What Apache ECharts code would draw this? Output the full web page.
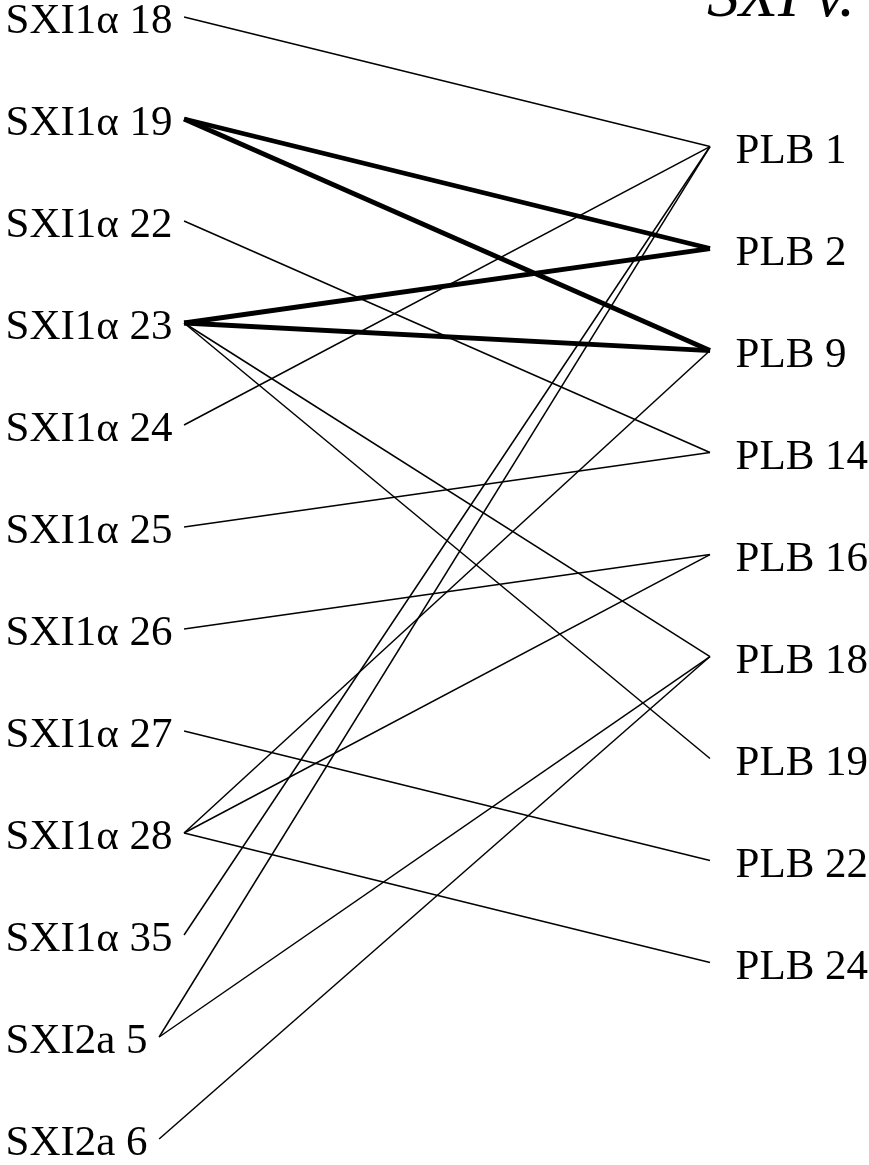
<!DOCTYPE html>
<html>
<head>
<meta charset="utf-8">
<script src="https://cdn.jsdelivr.net/npm/echarts@6/dist/echarts.min.js"></script>
<style>
html,body{margin:0;padding:0;background:#fff;}
#chart{width:869px;height:1165px;}
</style>
</head>
<body>
<div id="chart"></div>
<script>
// ---- data ----
const titleText = 'SXI v.';
const leftNodes = ['SXI1α 18','SXI1α 19','SXI1α 22','SXI1α 23','SXI1α 24','SXI1α 25','SXI1α 26','SXI1α 27','SXI1α 28','SXI1α 35','SXI2a 5','SXI2a 6'];
const rightNodes = ['PLB 1','PLB 2','PLB 9','PLB 14','PLB 16','PLB 18','PLB 19','PLB 22','PLB 24'];
const edgeFrom = ['SXI1α 18','SXI1α 19','SXI1α 19','SXI1α 22','SXI1α 23','SXI1α 23','SXI1α 23','SXI1α 23','SXI1α 24','SXI1α 25','SXI1α 26','SXI1α 27','SXI1α 28','SXI1α 28','SXI1α 28','SXI1α 35','SXI2a 5','SXI2a 5','SXI2a 6'];
const edgeTo   = ['PLB 1','PLB 2','PLB 9','PLB 14','PLB 2','PLB 9','PLB 18','PLB 19','PLB 1','PLB 14','PLB 16','PLB 22','PLB 9','PLB 16','PLB 24','PLB 1','PLB 1','PLB 18','PLB 18'];
const edgeWeight = [1,2,2,1,2,2,1,1,1,1,1,1,1,1,1,1,1,1,1];

// ---- layout ----
const W = 869, H = 1165;
const labelLeft = 5, rightEnd = 710;
const gridTop = 17, gridBottom = H - 1139;
const plotWidth = rightEnd - labelLeft;   // x in data = pixel offset / plotWidth
const rightOffset = 1.27;
const fontFamily = '"Liberation Serif", "Times New Roman", serif';
const labelSize = 43;

const cv = document.createElement('canvas').getContext('2d');
cv.font = labelSize + 'px ' + fontFamily;
function leftEndX(name){
  const w = cv.measureText(name).width;
  return (w + 12) / plotWidth;
}

const lineData = edgeFrom.map((f, k) => {
  const li = leftNodes.indexOf(f);
  const ri = rightNodes.indexOf(edgeTo[k]);
  return {
    coords: [[leftEndX(f), li], [1, ri + rightOffset]],
    lineStyle: { width: edgeWeight[k] === 2 ? 4.8 : 1.5 }
  };
});

const labelStyle = { show: true, position: 'right', formatter: p => p.name, offset: [0, 5],
  fontFamily: fontFamily, fontSize: labelSize, color: '#000', opacity: 1, textBorderWidth: 0 };

const chart = echarts.init(document.getElementById('chart'), null, {renderer:'canvas'});
chart.setOption({
  backgroundColor: '#fff',
  animation: false,
  graphic: [{
    type: 'text', left: 707, top: -33,
    style: { text: titleText, font: 'italic 64px ' + fontFamily, fill: '#000' }
  }],
  grid: { left: labelLeft, right: W - rightEnd, top: gridTop, bottom: gridBottom },
  xAxis: { type: 'value', min: 0, max: 1, show: false },
  yAxis: { type: 'value', min: 0, max: 11, inverse: true, show: false },
  series: [
    {
      type: 'lines', coordinateSystem: 'cartesian2d', polyline: false, silent: true,
      symbol: 'none', z: 2, clip: false,
      lineStyle: { color: '#000', opacity: 1, curveness: 0 },
      data: lineData
    },
    {
      type: 'scatter', symbolSize: 1, silent: true, clip: false,
      itemStyle: { color: 'rgba(0,0,0,0)' },
      data: leftNodes.map((n, i) => ({ value: [0, i], name: n })),
      label: Object.assign({}, labelStyle, { distance: 0 })
    },
    {
      type: 'scatter', symbolSize: 1, silent: true, clip: false,
      itemStyle: { color: 'rgba(0,0,0,0)' },
      data: rightNodes.map((n, i) => ({ value: [1, i + rightOffset], name: n })),
      label: Object.assign({}, labelStyle, { distance: 25 })
    }
  ]
});
</script>
</body>
</html>
